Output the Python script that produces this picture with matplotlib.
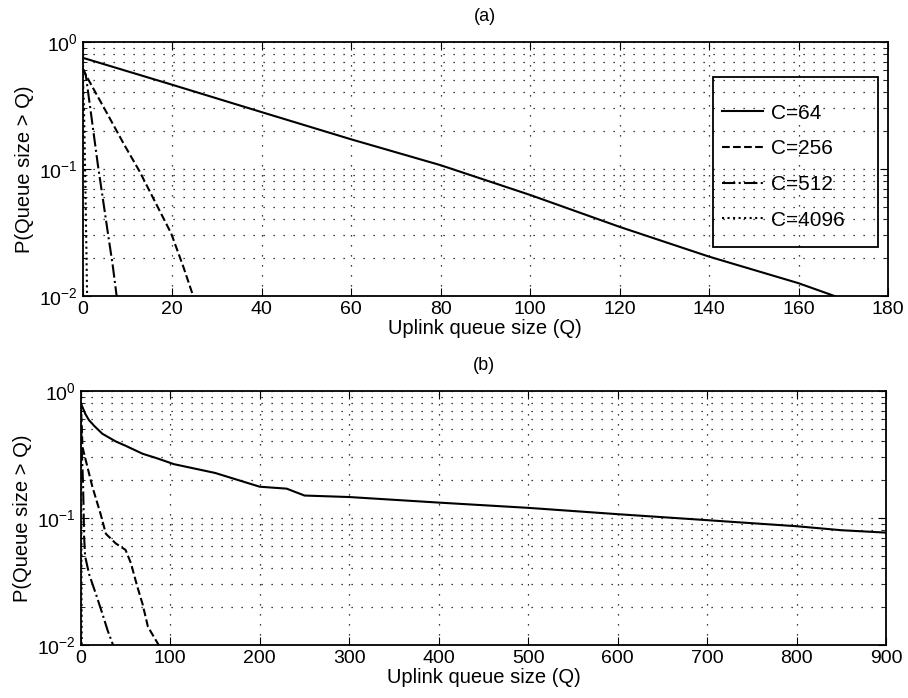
import numpy as np
import matplotlib.pyplot as plt
from matplotlib.patches import Rectangle
from matplotlib.ticker import LogLocator, NullFormatter

plt.rcParams["font.family"] = ["Liberation Sans", "DejaVu Sans"]
plt.rcParams["mathtext.fontset"] = "custom"
plt.rcParams["mathtext.rm"] = "Liberation Sans"
plt.rcParams["mathtext.it"] = "Liberation Sans"

labels = ["C=64", "C=256", "C=512", "C=4096"]
styles = ["-", "--", "-.", ":"]

# panel (a)
qa_64 = [0, 20, 40, 60, 80, 100, 120, 140, 160, 168]
pa_64 = [0.75, 0.46, 0.28, 0.171, 0.107, 0.0624, 0.035, 0.0204, 0.0126, 0.01]
qa_256 = [0, 0.7, 5.6, 9.3, 12.7, 16.8, 19.8, 22.5, 24.7]
pa_256 = [0.62, 0.55, 0.268, 0.155, 0.096, 0.05, 0.031, 0.017, 0.01]
qa_512 = [0, 0.7, 1.9, 3.4, 4.5, 5.6, 6.7, 7.6]
pa_512 = [0.62, 0.55, 0.268, 0.108, 0.059, 0.032, 0.0177, 0.01]
qa_4096 = [0, 0.3, 0.6, 1.0]
pa_4096 = [0.6, 0.3, 0.08, 0.01]

# panel (b)
qb_64 = [0, 5, 9, 15, 24, 39, 50, 69, 85, 104, 150, 200, 230, 250, 300, 400,
         500, 600, 700, 800, 850, 900]
pb_64 = [0.8, 0.66, 0.59, 0.53, 0.46, 0.40, 0.37, 0.32, 0.295, 0.265, 0.226,
         0.176, 0.17, 0.15, 0.146, 0.132, 0.12, 0.107, 0.096, 0.086, 0.080, 0.0766]
qb_256 = [0, 1.9, 13, 22, 28, 39, 50, 56, 63, 69, 75, 87]
pb_256 = [0.8, 0.36, 0.175, 0.108, 0.075, 0.063, 0.056, 0.044, 0.029, 0.021, 0.0139, 0.01]
qb_512 = [0, 0.8, 2.6, 3.7, 4.8, 9.3, 17, 24, 30, 36]
pb_512 = [0.8, 0.39, 0.175, 0.071, 0.05, 0.036, 0.025, 0.0177, 0.013, 0.01]
qb_4096 = [0, 0.5, 1.0]
pb_4096 = [0.7, 0.1, 0.01]

fig = plt.figure(figsize=(9.08, 6.98), dpi=100)
ax_a = fig.add_axes([0.091, 0.576, 0.887, 0.364])
ax_b = fig.add_axes([0.089, 0.076, 0.887, 0.364])

panels = [
    (ax_a, [(qa_64, pa_64), (qa_256, pa_256), (qa_512, pa_512), (qa_4096, pa_4096)], 180, 20, "(a)"),
    (ax_b, [(qb_64, pb_64), (qb_256, pb_256), (qb_512, pb_512), (qb_4096, pb_4096)], 900, 100, "(b)"),
]

for ax, series, xmax, xstep, title in panels:
    for (q, p), ls, lab in zip(series, styles, labels):
        ax.plot(q, p, ls, color="k", linewidth=1.5, label=lab)
    ax.set_yscale("log")
    ax.set_xlim(0, xmax)
    ax.set_ylim(1e-2, 1)
    ax.set_xticks(np.arange(0, xmax + 1, xstep))
    ax.yaxis.set_major_locator(LogLocator(base=10))
    ax.yaxis.set_minor_locator(LogLocator(base=10, subs=np.arange(2, 10)))
    ax.yaxis.set_minor_formatter(NullFormatter())
    ax.grid(True, which="both", linestyle=(0, (1, 7)), color="k", linewidth=0.9)
    ax.tick_params(which="both", direction="in", top=True, right=True, labelsize=14)
    ax.tick_params(which="major", length=6)
    ax.tick_params(which="minor", length=3)
    for sp in ax.spines.values():
        sp.set_linewidth(1.3)
    ax.set_xlabel("Uplink queue size (Q)", fontsize=14.5, labelpad=1)
    ax.set_ylabel("P(Queue size > Q)", fontsize=14.5, labelpad=4)
    ax.set_title(title, fontsize=13, pad=15)

# MATLAB-style legend: transparent box, wide right margin
ax_a.add_patch(Rectangle((0.783, 0.193), 0.205, 0.669, transform=ax_a.transAxes,
                         fill=False, edgecolor="k", linewidth=1.3, zorder=5))
ax_a.legend(loc="upper left", bbox_to_anchor=(0.794, 0.757), fontsize=15,
            frameon=False, borderpad=0, borderaxespad=0, handlelength=1.97,
            labelspacing=0.8, handletextpad=0.38)

fig.savefig("out.png", dpi=100)
